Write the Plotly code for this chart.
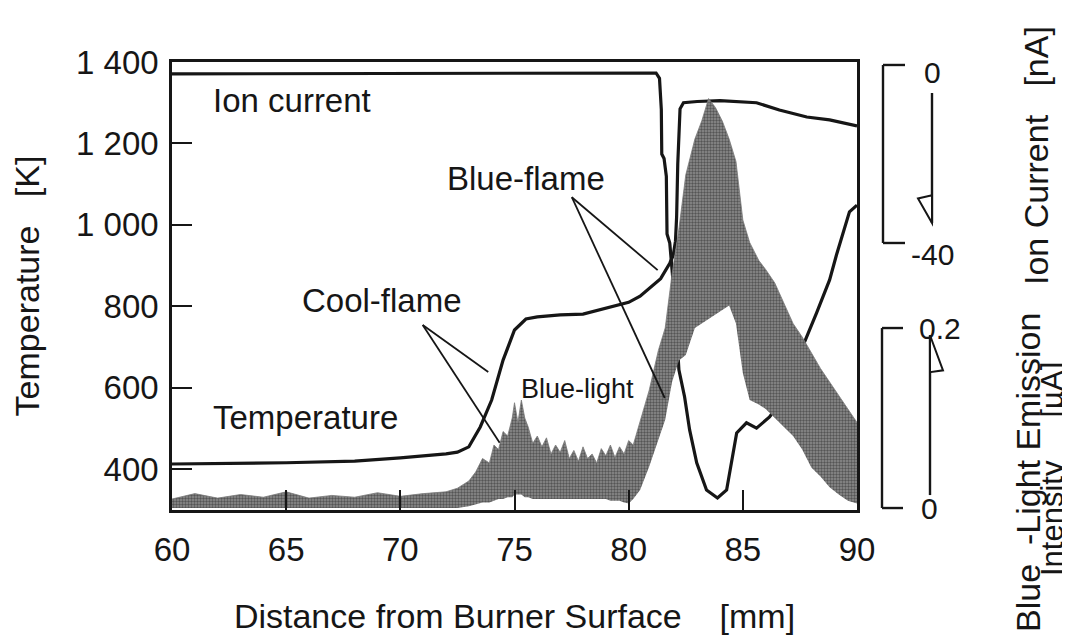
import plotly.graph_objects as go

# ---------------- data ----------------
# Temperature profile [K] vs distance [mm]
temp_x = [60, 62, 65, 68, 70, 72, 72.5, 73, 73.5, 74, 74.5, 75, 75.5, 76, 77, 78, 79, 80, 80.5,
          81, 81.4, 81.8, 81.95, 82.05, 82.1, 82.15, 82.2, 82.25, 82.4, 83, 84, 85, 85.6,
          86.6, 87.8, 88.8, 89.8, 90]
temp_y = [413, 414, 416, 420, 428, 438, 442, 455, 504, 570, 668, 742, 769, 774, 779, 781, 796, 810, 825,
          848, 868, 906, 925, 960, 1020, 1150, 1240, 1285, 1300, 1303, 1305, 1303, 1300,
          1282, 1265, 1258, 1245, 1243]

# Ion current [nA] vs distance [mm]
ion_x = [60, 70, 81.2, 81.35, 81.43, 81.45, 81.55, 81.65, 81.68, 81.8, 81.87, 81.95, 82.05, 82.1,
         82.2, 82.45, 82.67, 82.98, 83.41, 83.89, 84.29, 84.51, 84.73, 85.16, 85.6, 86.17, 86.61,
         87.18, 87.61, 88.23, 88.8, 89.1, 89.67, 90]
ion_y = [-2.0, -1.9, -1.8, -3, -10, -20, -21, -25, -38, -40, -44, -49, -52, -60,
         -68.5, -74.6, -82, -89.4, -95.5, -97.3, -95.5, -89.4, -82.7, -80.4, -81.6, -79.1, -76,
         -69.2, -63.4, -55.7, -48.3, -42.7, -33, -31.5]

# Blue-light emission intensity [uA]: upper / lower envelope of the noisy signal
blue_x = [60, 61, 62, 63, 64, 65, 66, 67, 68, 69, 70, 71, 72, 72.5,
          73.0, 73.3, 73.6, 73.9, 74.1, 74.3, 74.5, 74.7, 74.9, 75.0,
          75.15, 75.3, 75.45, 75.6, 75.8, 76.0, 76.2, 76.4, 76.6, 76.8,
          77.0, 77.2, 77.4, 77.6, 77.8, 78.0, 78.2, 78.4, 78.6, 78.8,
          79.0, 79.2, 79.4, 79.6, 79.8, 80.0, 80.2, 80.5,
          80.9, 81.3, 81.6, 81.9, 82.2, 82.5, 82.9, 83.2, 83.5, 83.8,
          84.1, 84.4, 84.7, 85.0, 85.3, 85.7, 86.0, 86.4, 86.8, 87.2,
          87.6, 88.0, 88.4, 88.8, 89.2, 89.6, 90]
blue_hi = [0.010, 0.016, 0.011, 0.015, 0.012, 0.018, 0.011, 0.014, 0.012, 0.017, 0.013, 0.016, 0.018, 0.022,
           0.030, 0.040, 0.055, 0.050, 0.070, 0.065, 0.085, 0.080, 0.100, 0.117,
           0.095, 0.120, 0.100, 0.090, 0.072, 0.080, 0.068, 0.078, 0.060, 0.070,
           0.062, 0.075, 0.055, 0.064, 0.052, 0.068, 0.055, 0.060, 0.050, 0.066,
           0.058, 0.070, 0.056, 0.068, 0.060, 0.075, 0.070, 0.095,
           0.131, 0.175, 0.200, 0.260, 0.310, 0.370, 0.410, 0.430, 0.455, 0.445,
           0.430, 0.410, 0.385, 0.320, 0.295, 0.275, 0.265, 0.250, 0.228, 0.205,
           0.190, 0.172, 0.155, 0.140, 0.125, 0.110, 0.095]
blue_lo = [0.0, 0.0, 0.0, 0.0, 0.0, 0.0, 0.0, 0.0, 0.0, 0.0, 0.0, 0.0, 0.0, 0.0,
           0.002, 0.004, 0.006, 0.006, 0.008, 0.010, 0.010, 0.012, 0.012, 0.015,
           0.015, 0.015, 0.012, 0.012, 0.010, 0.010, 0.010, 0.010, 0.010, 0.010,
           0.010, 0.010, 0.010, 0.010, 0.010, 0.010, 0.010, 0.010, 0.010, 0.010,
           0.010, 0.008, 0.008, 0.008, 0.006, 0.005, 0.010, 0.020,
           0.046, 0.075, 0.098, 0.140, 0.164, 0.170, 0.200, 0.205, 0.210, 0.215,
           0.220, 0.225, 0.205, 0.150, 0.120, 0.115, 0.110, 0.100, 0.090, 0.080,
           0.065, 0.045, 0.035, 0.023, 0.015, 0.008, 0.005]

x_ticks = [60, 65, 70, 75, 80, 85, 90]
y_ticks = [400, 600, 800, 1000, 1200, 1400]
y_ticktext = ["400", "600", "800", "1 000", "1 200", "1 400"]

# ---------------- figure ----------------
FONT = "Liberation Sans, Arial, Helvetica, sans-serif"
INK = "#161616"
PAGE_OFF = 8                      # default body margin of the html page
W, H = 1070 - PAGE_OFF, 641 - PAGE_OFF
L, R, T, B = 172, 857, 62, 510    # plot frame in page pixels


def px(xp):
    return (xp - L) / (R - L)


def py(yp):
    return (B - yp) / (B - T)


fig = go.Figure()

fig.add_trace(go.Scatter(x=blue_x, y=blue_lo, yaxis="y3", mode="lines",
                         line=dict(width=0, color="rgba(0,0,0,0)"), hoverinfo="skip",
                         showlegend=False))
fig.add_trace(go.Scatter(x=blue_x, y=blue_hi, yaxis="y3", mode="lines", fill="tonexty",
                         fillcolor="#6e6e6e",
                         fillpattern=dict(shape=".", fgcolor="#1c1c1c", bgcolor="#8e8e8e",
                                          size=3, solidity=0.5),
                         line=dict(width=0.8, color="#7a7a7a"), name="Blue-light",
                         showlegend=False))
fig.add_trace(go.Scatter(x=temp_x, y=temp_y, mode="lines", yaxis="y",
                         line=dict(color=INK, width=3.2), name="Temperature", showlegend=False))
fig.add_trace(go.Scatter(x=ion_x, y=ion_y, mode="lines", yaxis="y2",
                         line=dict(color=INK, width=3.2), name="Ion current", showlegend=False))

nb = "\u00a0"
fig.update_layout(
    width=W, height=H,
    margin=dict(l=L - PAGE_OFF, r=W - (R - PAGE_OFF), t=T - PAGE_OFF, b=H - (B - PAGE_OFF)),
    paper_bgcolor="white", plot_bgcolor="white",
    font=dict(family=FONT, color=INK, size=33),
    showlegend=False,
    xaxis=dict(range=[60, 90], tickvals=x_ticks, ticks="inside", ticklen=20, tickwidth=2,
               tickcolor=INK, showline=True, linewidth=2.5, linecolor=INK, mirror=True,
               showgrid=False, zeroline=False, tickfont=dict(size=33), ticklabelstandoff=9,
               title=dict(text="Distance from Burner Surface" + nb * 4 + "[mm]",
                          font=dict(size=34), standoff=37)),
    yaxis=dict(range=[300, 1400], tickvals=y_ticks, ticktext=y_ticktext, ticks="inside",
               ticklen=20, tickwidth=2, tickcolor=INK, showline=True, linewidth=2.5,
               linecolor=INK, mirror=True, showgrid=False, zeroline=False,
               tickfont=dict(size=33), ticklabelstandoff=4,
               title=dict(text="Temperature" + nb * 3 + "[K]", font=dict(size=34), standoff=29)),
    yaxis2=dict(range=[-100.0, 0.67], overlaying="y", visible=False),
    yaxis3=dict(range=[-0.0022, 0.4956], overlaying="y", visible=False),
)

# pointer lines
line_style = dict(color=INK, width=1.8)
pointers = [
    ((77.51, 1068), (81.27, 889)),
    ((77.51, 1068), (81.58, 575)),
    ((70.98, 754), (73.85, 639)),
    ((70.98, 754), (74.35, 465)),
]
for (x0, y0), (x1, y1) in pointers:
    fig.add_shape(type="line", xref="x", yref="y", x0=x0, y0=y0, x1=x1, y1=y1, line=line_style)

# in-plot labels
labels = [
    ("Ion current", 65.25, 1306, 33),
    ("Blue-flame", 75.49, 1113, 33),
    ("Cool-flame", 69.19, 815, 33),
    ("Blue-light", 77.77, 597, 27),
    ("Temperature", 65.85, 527, 33),
]
for txt, x, y, s in labels:
    fig.add_annotation(x=x, y=y, xref="x", yref="y", text=txt, showarrow=False,
                       font=dict(size=s, family=FONT, color=INK), xanchor="center", yanchor="middle")

# right-hand scale brackets (ion current on y2, blue light on y3)
sc = dict(color=INK, width=2.4)
bx, tx = px(883), px(905)
fig.add_shape(type="line", xref="paper", yref="y2", x0=bx, x1=bx, y0=0, y1=-40, line=sc)
fig.add_shape(type="line", xref="paper", yref="y2", x0=bx, x1=tx, y0=0, y1=0, line=sc)
fig.add_shape(type="line", xref="paper", yref="y2", x0=bx, x1=tx, y0=-40, y1=-40, line=sc)
bx2, tx2 = px(882), px(903)
fig.add_shape(type="line", xref="paper", yref="y3", x0=bx2, x1=bx2, y0=0, y1=0.2, line=sc)
fig.add_shape(type="line", xref="paper", yref="y3", x0=bx2, x1=tx2, y0=0.2, y1=0.2, line=sc)
fig.add_shape(type="line", xref="paper", yref="y3", x0=bx2, x1=tx2, y0=0, y1=0, line=sc)

# arrows
ax1 = px(932)
fig.add_shape(type="line", xref="paper", yref="y2", x0=ax1, x1=ax1, y0=-6.3, y1=-35.5, line=sc)
fig.add_shape(type="path", xref="paper", yref="y2",
              path=f"M {ax1},-35.5 L {px(918)},-30.0 L {ax1},-29.3 Z",
              line=dict(color=INK, width=2), fillcolor="white")
ax2 = px(930)
fig.add_shape(type="line", xref="paper", yref="y3", x0=ax2, x1=ax2, y0=0.0144, y1=0.192, line=sc)
fig.add_shape(type="path", xref="paper", yref="y3",
              path=f"M {ax2},0.192 L {px(943)},0.153 L {ax2},0.151 Z",
              line=dict(color=INK, width=2), fillcolor="white")

scale_labels = [("0", 932, 72), ("-40", 932, 254), ("0.2", 940, 328), ("0", 930, 508)]
for txt, xp, yp in scale_labels:
    fig.add_annotation(x=px(xp), y=py(yp), xref="paper", yref="paper", text=txt, showarrow=False,
                       font=dict(size=30, family=FONT, color=INK), xanchor="center", yanchor="middle")

# right-hand rotated titles
fig.add_annotation(x=px(1036), y=py(156), xref="paper", yref="paper",
                   text="Ion Current" + nb * 3 + "[nA]", textangle=-90, showarrow=False,
                   font=dict(size=34, family=FONT, color=INK), xanchor="center", yanchor="middle")
fig.add_annotation(x=px(1028), y=py(473), xref="paper", yref="paper",
                   text="Blue" + nb * 2 + "-Light Emission", textangle=-90, showarrow=False,
                   font=dict(size=34, family=FONT, color=INK), xanchor="center", yanchor="middle")
fig.add_annotation(x=px(1052), y=py(469), xref="paper", yref="paper",
                   text="Intensity" + nb * 5 + "[\u00b5A]", textangle=-90, showarrow=False,
                   font=dict(size=31, family=FONT, color=INK), xanchor="center", yanchor="middle")

fig.write_html("out.html")
